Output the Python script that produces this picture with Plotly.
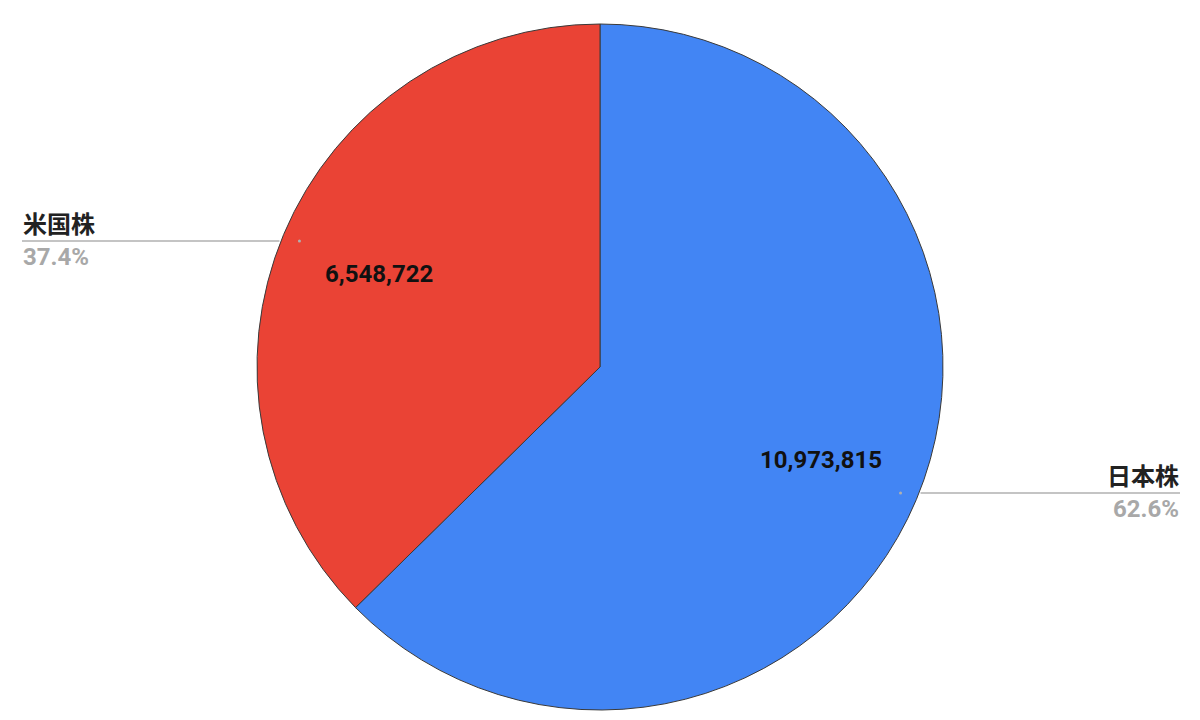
import math
import plotly.graph_objects as go

labels = ["日本株", "米国株"]
values = [10973815, 6548722]
colors = ["#4285F4", "#EA4335"]

W, H = 1200, 720
TOP, BOTTOM = 24, 10
cx = W / 2
cy = TOP + (H - TOP - BOTTOM) / 2
r = (H - TOP - BOTTOM) / 2

FONT = "Roboto, 'Noto Sans CJK JP', Arial, sans-serif"


def px(x):
    return x / W


def py(y):
    return 1 - y / H


fig = go.Figure(
    go.Pie(
        labels=labels,
        values=values,
        sort=False,
        direction="clockwise",
        rotation=0,
        marker=dict(colors=colors, line=dict(color="#3a3a3a", width=1)),
        textinfo="none",
        hoverinfo="label+value+percent",
        showlegend=False,
        domain=dict(x=[0, 1], y=[BOTTOM / H, 1 - TOP / H]),
    )
)

total = sum(values)
start = 90.0
annotations = []
shapes = []
for lab, v, c in zip(labels, values, colors):
    frac = v / total
    mid = math.radians(start - 180 * frac)
    start -= 360 * frac
    # value label at 0.7 r along bisector
    vx = cx + 0.70 * r * math.cos(mid)
    vy = cy - 0.70 * r * math.sin(mid)
    annotations.append(dict(
        x=px(vx), y=py(vy), xref="paper", yref="paper",
        text=f"<b>{v:,}</b>", showarrow=False,
        xanchor="center", yanchor="middle",
        font=dict(family=FONT, size=24, color="#111111"),
    ))
    # leader dot near the rim
    dx = cx + 0.95 * r * math.cos(mid)
    dy = cy - 0.95 * r * math.sin(mid)
    shapes.append(dict(
        type="circle", xref="paper", yref="paper",
        x0=px(dx - 1.5), x1=px(dx + 1.5), y0=py(dy + 1.5), y1=py(dy - 1.5),
        fillcolor="#b0b0b0", line=dict(width=0),
    ))
    left = math.cos(mid) < 0
    if left:
        x_start, x_end = dx - 20, 22
        tx, anchor = 22, "left"
    else:
        x_start, x_end = dx + 20, 1180
        tx, anchor = 1180, "right"
    shapes.append(dict(
        type="line", xref="paper", yref="paper",
        x0=px(x_start), x1=px(x_end), y0=py(dy), y1=py(dy),
        line=dict(color="#c4c4c4", width=2),
    ))
    annotations.append(dict(
        x=px(tx), y=py(dy - 1), xref="paper", yref="paper",
        text=f"<b>{lab}</b>", showarrow=False,
        xanchor=anchor, yanchor="bottom", borderpad=0,
        font=dict(family=FONT, size=24, color="#222222"),
    ))
    annotations.append(dict(
        x=px(tx), y=py(dy + 1), xref="paper", yref="paper",
        text=f"<b>{frac * 100:.1f}%</b>", showarrow=False,
        xanchor=anchor, yanchor="top", borderpad=0,
        font=dict(family=FONT, size=24, color="#a8a8a8"),
    ))

fig.update_layout(
    width=W, height=H,
    margin=dict(l=0, r=0, t=0, b=0),
    paper_bgcolor="white", plot_bgcolor="white",
    annotations=annotations, shapes=shapes,
)

fig.write_html("out.html", config={"displayModeBar": False},
               post_script="document.body.style.margin='0';")
